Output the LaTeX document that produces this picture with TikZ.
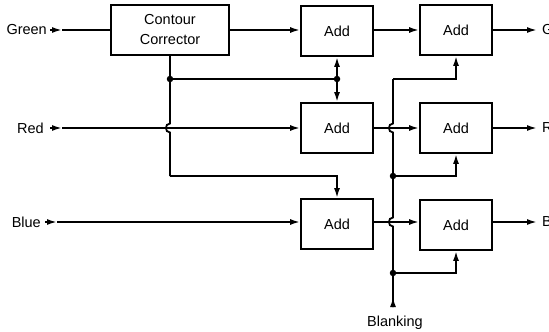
\documentclass[tikz,border=0pt]{standalone}
\usepackage{fontspec}
\setmainfont{Liberation Sans}
\usetikzlibrary{arrows.meta}
\begin{document}
\begin{tikzpicture}[x=1pt,y=-1pt,
  wire/.style={line width=1.8pt},
  arr/.style={wire,-{Latex[length=10pt,width=6pt]}},
  blk/.style={draw,line width=1.8pt,minimum width=72pt,minimum height=50pt,inner sep=0pt,align=center,font=\fontsize{14.5}{20}\selectfont},
  lbl/.style={inner sep=0pt,font=\fontsize{14.5}{17}\selectfont},
  jdot/.style={circle,fill,inner sep=0pt,minimum size=6.5pt}]
\useasboundingbox (0,0) rectangle (549,332);
% blocks
\node[blk,minimum width=118pt] (cc) at (170,30) {Contour\\Corrector};
\node[blk] (a1) at (337,31) {Add};
\node[blk] (a2) at (337,128) {Add};
\node[blk] (a3) at (337,224) {Add};
\node[blk] (a4) at (456,30) {Add};
\node[blk] (a5) at (456,128) {Add};
\node[blk] (a6) at (456,225) {Add};
% input labels
\node[lbl,anchor=east] (gin) at (47,30) {Green};
\node[lbl,anchor=east] (rin) at (44,128) {Red};
\node[lbl,anchor=east] (bin) at (41,222) {Blue};
\coordinate (g0) at (50,30);
\coordinate (r0) at (50,128);
\coordinate (b0) at (45,222);
\coordinate (g1) at (62,30);
\coordinate (r1) at (62,128);
\coordinate (b1) at (57,222);
\draw[arr] (g0) -- (g1);
\draw[wire] (g1) -- (cc.west);
\draw[arr] (r0) -- (r1);
\draw[arr] (r1) -- (a2.west);
\draw[arr] (b0) -- (b1);
\draw[arr] (b1) -- (a3.west |- b0);
% corrector to add
\draw[arr] (cc.east) -- (a1.west |- cc.east);
\draw[arr] (a1.east |- a4.west) -- (a4.west);
\draw[arr] (a2.east) -- (a5.west);
\draw[arr] (a3.east |- b0) -- (a6.west |- b0);
% corrector drop
\coordinate (c1) at (170,79);
\coordinate (c2) at (170,176);
\coordinate (d1) at (337,79);
\draw[wire] (cc.south) -- (170,123.5) .. controls (164.5,123.5) and (164.5,132.5) .. (170,132.5) -- (c2);
\draw[arr] (c2) -| (a3.north);
\draw[wire] (c1) -- (d1);
\draw[arr] (d1) -- (a1.south);
\draw[arr] (d1) -- (a2.north);
\node[jdot] (c1d) at (c1) {};
\node[jdot] (d1d) at (d1) {};
% blanking bus
\coordinate (btop) at (393,79);
\coordinate (bbot) at (393,307);
\coordinate (j1) at (393,176);
\coordinate (j2) at (393,273);
\draw[arr] (btop) -| (a4.south);
\draw[arr] (j1) -| (a5.south);
\draw[arr] (j2) -| (a6.south);
\draw[wire] (bbot) -- (393,226.5) .. controls (387.5,226.5) and (387.5,217.5) .. (393,217.5) -- (393,132.5) .. controls (387.5,132.5) and (387.5,123.5) .. (393,123.5) -- (btop);
\draw[arr] (bbot) -- ++(0,-10);
\node[jdot] (j1d) at (j1) {};
\node[jdot] (j2d) at (j2) {};
\node[lbl,anchor=base] (blank) at (395,326) {Blanking};
% outputs
\coordinate (go) at (537,30);
\coordinate (ro) at (537,128);
\coordinate (bo) at (537,222);
\draw[arr] (a4.east) -- (go);
\draw[arr] (a5.east) -- (ro);
\draw[arr] (a6.east |- bo) -- (bo);
\node[lbl,anchor=west] (gout) at (542,30) {G};
\node[lbl,anchor=west] (rout) at (542,128) {R};
\node[lbl,anchor=west] (bout) at (542,222) {B};
\end{tikzpicture}
\end{document}
